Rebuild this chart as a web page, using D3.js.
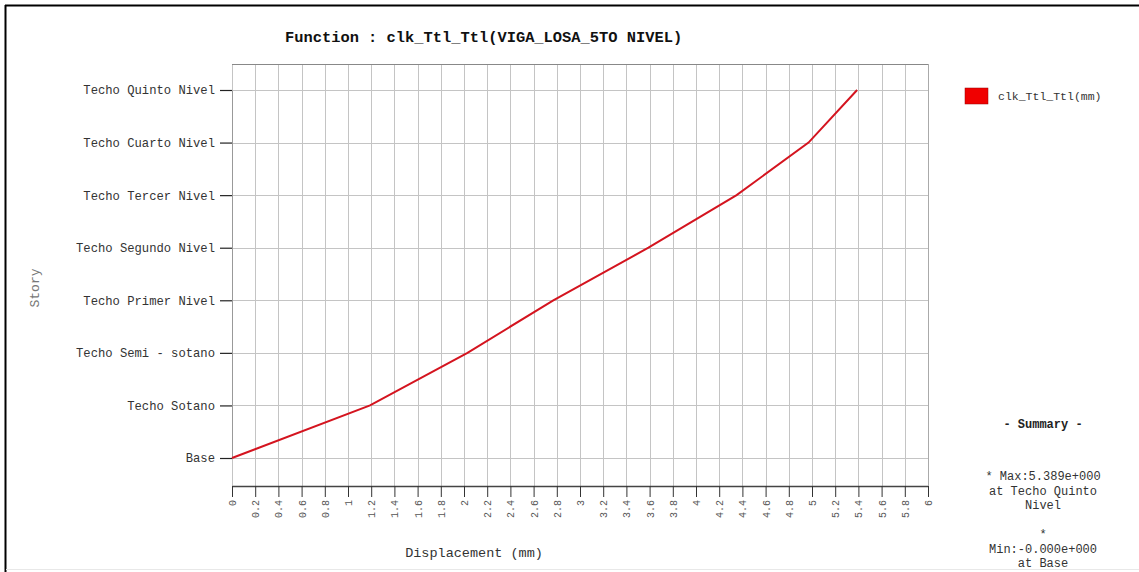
<!DOCTYPE html>
<html>
<head>
<meta charset="utf-8">
<script src="https://cdn.jsdelivr.net/npm/d3@7"></script>
<style>
  html, body { margin: 0; padding: 0; background: #fff; }
  svg { display: block; font-family: "Liberation Mono", "Courier New", monospace; }
</style>
</head>
<body>
<svg id="chart" width="1139" height="572"></svg>
<script>
const stories = ["Base", "Techo Sotano", "Techo Semi - sotano", "Techo Primer Nivel",
  "Techo Segundo Nivel", "Techo Tercer Nivel", "Techo Cuarto Nivel", "Techo Quinto Nivel"];
const displacement = [0, 1.19, 2.03, 2.77, 3.59, 4.35, 4.97, 5.389];
const xTicks = d3.range(0, 31).map(i => +(i * 0.2).toFixed(1));
const seriesName = "clk_Ttl_Ttl(mm)";
const title = "Function : clk_Ttl_Ttl(VIGA_LOSA_5TO NIVEL)";
const summaryLines = ["* Max:5.389e+000", "at Techo Quinto", "Nivel", "", "*", "Min:-0.000e+000", "at Base"];

const svg = d3.select("#chart");
const W = 1139, H = 572;
const L = 232, R = 928, T = 64, B = 486;

// outer frame
svg.append("line").attr("x1", 5).attr("x2", W).attr("y1", 5.5).attr("y2", 5.5).attr("stroke", "#000").attr("stroke-width", 2);
svg.append("line").attr("x1", 5.5).attr("x2", 5.5).attr("y1", 5).attr("y2", H).attr("stroke", "#000").attr("stroke-width", 2);
svg.append("line").attr("x1", 6).attr("x2", W).attr("y1", 569.5).attr("y2", 569.5).attr("stroke", "#e8e8e8").attr("stroke-width", 1);

const x = d3.scaleLinear().domain([0, 6]).range([L, R]);
const y = d3.scalePoint().domain(stories).range([458, 90]);

// grid
svg.append("g").selectAll("line").data(xTicks).join("line")
  .attr("x1", d => Math.round(x(d)) + 0.5).attr("x2", d => Math.round(x(d)) + 0.5)
  .attr("y1", T).attr("y2", B).attr("stroke", "#c4c4c4").attr("stroke-width", 1);
svg.append("g").selectAll("line").data(stories).join("line")
  .attr("x1", L).attr("x2", R)
  .attr("y1", d => Math.round(y(d)) + 0.5).attr("y2", d => Math.round(y(d)) + 0.5)
  .attr("stroke", "#c4c4c4").attr("stroke-width", 1);
svg.append("line").attr("x1", L).attr("x2", R).attr("y1", T + 0.5).attr("y2", T + 0.5)
  .attr("stroke", "#888").attr("stroke-width", 1);

// x axis
const xAxis = svg.append("g").attr("transform", `translate(0,${B})`)
  .call(d3.axisBottom(x).tickValues(xTicks).tickSize(11).tickSizeOuter(0)
    .tickFormat(d => d3.format("~g")(d)));
xAxis.select(".domain").attr("stroke", "#444").attr("stroke-width", 1.5);
xAxis.selectAll(".tick line").attr("stroke", "#333");
xAxis.selectAll(".tick text")
  .attr("transform", "rotate(-90)")
  .attr("x", -14).attr("y", 0).attr("dy", "0.35em")
  .attr("text-anchor", "end")
  .attr("fill", "#555")
  .style("font-size", "10px")
  .style("font-family", "Liberation Mono, monospace");

// y axis
const yAxis = svg.append("g").attr("transform", `translate(${L},0)`)
  .call(d3.axisLeft(y).tickSize(12).tickSizeOuter(0));
yAxis.select(".domain").attr("stroke", "#999").attr("stroke-width", 1);
yAxis.selectAll(".tick line").attr("stroke", "#222").attr("stroke-width", 1.2);
yAxis.selectAll(".tick text")
  .attr("x", -17)
  .attr("fill", "#333")
  .style("font-size", "12.2px")
  .style("font-family", "Liberation Mono, monospace");

// right frame
svg.append("line").attr("x1", R + 0.5).attr("x2", R + 0.5).attr("y1", T).attr("y2", B)
  .attr("stroke", "#aaa");

// line
const line = d3.line().x(d => x(d[0])).y(d => y(d[1]));
svg.append("path")
  .datum(displacement.map((v, i) => [v, stories[i]]))
  .attr("d", line).attr("fill", "none")
  .attr("stroke", "#d4141f").attr("stroke-width", 2);

// title
svg.append("text").attr("x", 285).attr("y", 42).attr("text-anchor", "start")
  .attr("font-weight", "bold").attr("fill", "#111").style("font-size", "15.4px")
  .text(title);

// axis titles
svg.append("text").attr("x", 474).attr("y", 557).attr("text-anchor", "middle")
  .attr("fill", "#333").style("font-size", "13.5px").text("Displacement (mm)");
svg.append("text").attr("transform", "translate(39,288) rotate(-90)").attr("text-anchor", "middle")
  .attr("fill", "#777").style("font-size", "13px").text("Story");

// legend
svg.append("rect").attr("x", 965).attr("y", 88).attr("width", 23).attr("height", 16)
  .attr("fill", "#f00000").attr("stroke", "#900").attr("stroke-width", 0.5);
svg.append("text").attr("x", 998).attr("y", 100).attr("fill", "#333")
  .style("font-size", "11.5px").text(seriesName);

// summary
svg.append("text").attr("x", 1043).attr("y", 428).attr("text-anchor", "middle")
  .attr("fill", "#222").attr("font-weight", "bold").style("font-size", "12px").text("- Summary -");
svg.append("g").selectAll("text").data(summaryLines).join("text")
  .attr("x", 1043).attr("y", (d, i) => 480 + i * 14.5).attr("text-anchor", "middle")
  .attr("fill", "#333").style("font-size", "12px").text(d => d);
</script>
</body>
</html>
